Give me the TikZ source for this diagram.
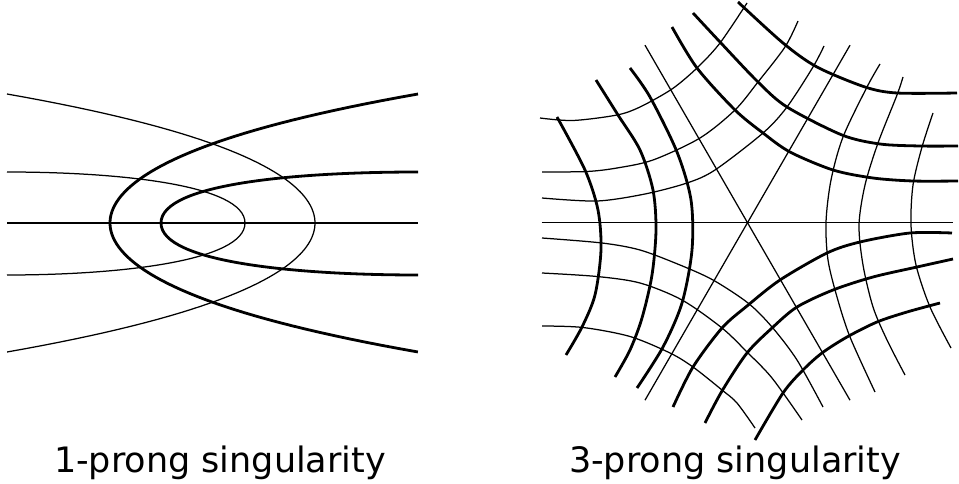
\documentclass[tikz,border=0pt]{standalone}
\usepackage{fontspec}
\setmainfont{DejaVu Sans}
\begin{document}
\begin{tikzpicture}[x=1pt,y=-1pt,
  thinleaf/.style={line width=1.25pt},
  thickleaf/.style={line width=2.8pt},
  caption/.style={font=\fontsize{35}{42}\selectfont, inner sep=0pt, anchor=base}]
\useasboundingbox (0,0) rectangle (959,484);

% ---------- 1-prong singularity ----------
\draw[thinleaf] (7,223) -- (418,223);
\draw[thinleaf] plot[domain=-1:1, samples=80, variable=\s]
  ({315-250*\s*\s-58*\s*\s*\s*\s}, {223+129*\s});
\draw[thickleaf] plot[domain=-1:1, samples=80, variable=\s]
  ({110+250*\s*\s+58*\s*\s*\s*\s}, {223+129*\s});
\draw[thinleaf] (7,172) .. controls (120,172) and (245,185) .. (245,223)
  .. controls (245,261) and (120,275) .. (7,275);
\draw[thickleaf] (418,172) .. controls (300,172) and (161,183) .. (161,223)
  .. controls (161,263) and (300,275) .. (418,275);

% ---------- 3-prong singularity ----------
% singular rays
\draw[thinleaf] (541.7,222.7) -- (953,222.7);
\draw[thinleaf] (645,45.2) -- (850,400.2);
\draw[thinleaf] (850,45.2) -- (645,400.2);

% thin leaves, upper-left sector
\draw[thinleaf] plot[smooth] coordinates {(540,118) (573,120.5) (617,115) (640,107) (672,89) (697,68) (720,43) (747,3)};
\draw[thinleaf] plot[smooth] coordinates {(542,172) (587,171.5) (617,168) (653,160) (700,138) (735,110) (758,82) (785,47) (798,21)};
\draw[thinleaf] plot[smooth] coordinates {(542,198) (597,201) (645,194) (687,183) (715,170) (763,133) (787,107) (813,67) (824,46)};
% thin leaves, lower-left sector
\draw[thinleaf] plot[smooth] coordinates {(542,326) (583,327.5) (630,336.5) (670,353) (693,367) (722,390) (737,403) (755,428)};
\draw[thinleaf] plot[smooth] coordinates {(542,273) (597,276.5) (640,283) (682,300) (722,328) (747,352) (772,378) (802,420)};
\draw[thinleaf] plot[smooth] coordinates {(542,238) (602,243) (640,250) (680,265) (713,280) (748,303) (772,327) (797,360) (823,407)};
% thin leaves, right sector
\draw[thinleaf] plot[smooth] coordinates {(880,64) (867,87) (843,137) (831,180) (826,222) (828,260) (837,297) (850,337) (875,392)};
\draw[thinleaf] plot[smooth] coordinates {(903,77) (897,95) (878,143) (865,185) (859,225) (863,265) (873,307) (887,340) (905,375)};
\draw[thinleaf] plot[smooth] coordinates {(933,113) (922,147) (913,185) (911,225) (916,265) (930,307) (951,348)};

% thick leaves, left sector
\draw[thickleaf] plot[smooth] coordinates {(557,117) (585,170) (598,210) (601,250) (595,295) (582,327) (566,355)};
\draw[thickleaf] plot[smooth] coordinates {(596,80) (618,115) (640,150) (653,190) (656,230) (652,275) (642,318) (630,350) (615,377)};
\draw[thickleaf] plot[smooth] coordinates {(630,68) (650,97) (677,152) (691,200) (692,250) (682,303) (663,347) (637,388)};
% thick leaves, upper-right sector
\draw[thickleaf] plot[smooth] coordinates {(738,2) (783,43) (817,67) (865,87) (897,93) (957,93)};
\draw[thickleaf] plot[smooth] coordinates {(693,13) (720,42) (758,82) (787,107) (842,135) (880,144) (920,146) (958,146)};
\draw[thickleaf] plot[smooth] coordinates {(672,27) (697,68) (735,110) (763,133) (790,152) (833,170) (873,178) (913,181) (958,181)};
% thick leaves, lower-right sector
\draw[thickleaf] plot[smooth] coordinates {(673,407) (693,367) (722,328) (747,306) (780,280) (827,253) (860,242) (910,233) (952,233)};
\draw[thickleaf] plot[smooth] coordinates {(705,423) (722,391) (747,353) (772,328) (797,307) (833,290) (873,277) (917,267) (953,259)};
\draw[thickleaf] plot[smooth] coordinates {(755,440) (783,393) (803,370) (822,353) (847,337) (877,322) (907,312) (940,303)};

% captions
\node[caption] (cap1) at (220,472.7) {1-prong singularity};
\node[caption] (cap3) at (735,472.7) {3-prong singularity};
\end{tikzpicture}
\end{document}
